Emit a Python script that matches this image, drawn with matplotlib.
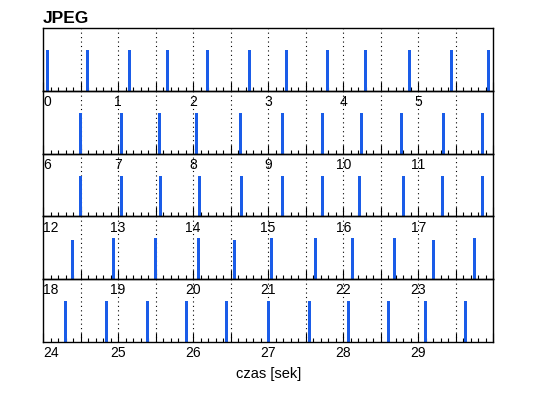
import matplotlib
matplotlib.use("Agg")
import matplotlib.pyplot as plt
import numpy as np

# frame arrival times (seconds) and relative bar heights
frame_times = [
    0.06, 0.59, 1.15, 1.66, 2.19, 2.75, 3.24, 3.79, 4.30, 4.88, 5.44, 5.94,
    6.50, 7.04, 7.55, 8.04, 8.63, 9.19, 9.73, 10.24, 10.78, 11.34, 11.85,
    12.50, 13.04, 13.56, 14.09, 14.64, 15.19, 15.72, 16.22, 16.80, 17.32, 17.86,
    18.39, 18.94, 19.50, 20.07, 20.55, 21.05, 21.63, 22.13, 22.69, 23.20, 23.75,
    24.30, 24.84, 25.39, 25.91, 26.44, 27.00, 27.55, 28.07, 28.60, 29.10, 29.63,
]
frame_heights = [
    0.65, 0.65, 0.65, 0.65, 0.65, 0.65, 0.65, 0.65, 0.65, 0.65, 0.65, 0.65,
    0.65, 0.65, 0.65, 0.65, 0.65, 0.65, 0.65, 0.65, 0.65, 0.65, 0.65,
    0.65, 0.65, 0.65, 0.65, 0.65, 0.65, 0.65, 0.65, 0.65, 0.65, 0.65,
    0.62, 0.65, 0.65, 0.65, 0.62, 0.65, 0.65, 0.65, 0.65, 0.62, 0.65,
    0.65, 0.65, 0.65, 0.65, 0.65, 0.65, 0.65, 0.65, 0.65, 0.65, 0.65,
]
seconds_per_row = 6
n_rows = 5
title = "JPEG"
x_label = "czas [sek]"

plt.rcParams['font.family'] = ['Liberation Sans', 'DejaVu Sans']

W, H = 538, 398
fig = plt.figure(figsize=(W / 100, H / 100), dpi=100)

# plot area in pixels
left, right, top, bottom = 43, 493.3, 28, 342
row_h = (bottom - top) / n_rows

times = np.array(frame_times)
heights = np.array(frame_heights)

for r in range(n_rows):
    ax_top = top + r * row_h
    ax = fig.add_axes([left / W, 1 - (ax_top + row_h) / H,
                       (right - left) / W, row_h / H])
    ax.patch.set_alpha(0)
    start = r * seconds_per_row
    end = start + seconds_per_row
    ax.set_xlim(start, end)
    ax.set_ylim(0, 1)

    # half-second dotted grid
    for g in np.arange(start + 0.5, end, 0.5):
        ax.axvline(g, color='black', lw=0.8, ls=(0, (1, 3)), zorder=1)

    sel = (times >= start) & (times < end)
    ax.bar(times[sel], heights[sel], width=0.04, color='#1a5ce8',
           linewidth=0, zorder=2)

    major = np.arange(start, end + 0.01, 0.5)
    labels = [str(int(m)) if (m == int(m) and m < end) else '' for m in major]
    ax.set_xticks(major, labels)
    ax.set_xticks(np.arange(start, end + 0.01, 0.1), minor=True)
    ax.tick_params(axis='x', which='major', direction='in', length=6.5,
                   width=0.8, pad=3, labelsize=10)
    ax.tick_params(axis='x', which='minor', direction='in', length=3,
                   width=0.8)
    ax.get_xticklabels()[0].set_ha('left')
    ax.set_yticks([])
    for s in ax.spines.values():
        s.set_linewidth(1.0)

fig.text(left / W, 1 - 11 / H, title, fontsize=12.5, fontweight='bold',
         ha='left', va='top')
fig.text((left + right) / 2 / W, 1 - 374 / H, x_label, fontsize=10.5,
         ha='center', va='center')

fig.savefig("out.png", dpi=100)
